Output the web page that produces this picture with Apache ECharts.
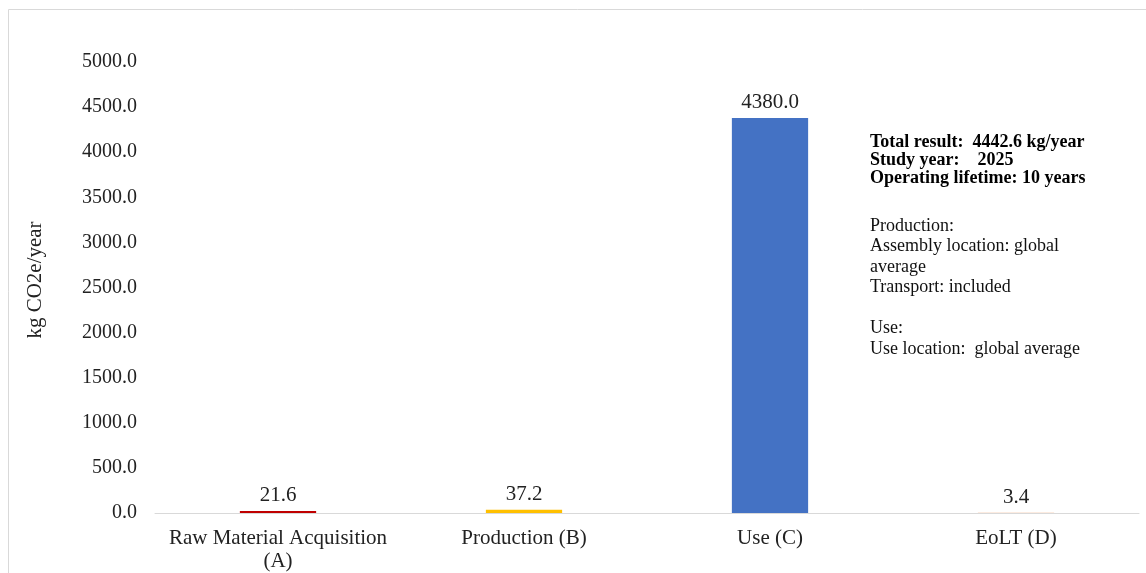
<!DOCTYPE html>
<html>
<head>
<meta charset="utf-8">
<script src="https://cdn.jsdelivr.net/npm/echarts@6/dist/echarts.min.js"></script>
<style>
  html, body { margin: 0; padding: 0; background: #fff; }
  #chart { width: 1146px; height: 573px; }
</style>
</head>
<body>
<div id="chart"></div>
<script>
// Life-cycle stages and their emissions (kg CO2e per year)
const stages = ['Raw Material Acquisition\n(A)', 'Production (B)', 'Use (C)', 'EoLT (D)'];
const emissions = [21.6, 37.2, 4380.0, 3.4];
const stageColors = ['#C00000', '#FFC000', '#4472C4', '#F4B183'];
const yTicks = { min: 0, max: 5000, interval: 500 };
const yTitle = 'kg CO2e/year';

const noteBold = [
  'Total result:  4442.6 kg/year',
  'Study year:    2025',
  'Operating lifetime: 10 years'
];
const noteBody = [
  'Production:',
  'Assembly location: global',
  'average',
  'Transport: included',
  '',
  'Use:',
  'Use location:  global average'
];

const serif = '"Liberation Serif", "Times New Roman", serif';
const chart = echarts.init(document.getElementById('chart'));

chart.setOption({
  animation: false,
  textStyle: { fontFamily: serif },
  grid: { left: 155, right: 7, top: 62, bottom: 59 },
  xAxis: {
    type: 'category',
    data: stages,
    axisLine: { lineStyle: { color: '#d9d9d9', width: 1 } },
    axisTick: { show: false },
    axisLabel: { color: '#222', fontSize: 21, fontFamily: serif, margin: 14, lineHeight: 23, interval: 0 }
  },
  yAxis: {
    type: 'value',
    min: yTicks.min,
    max: yTicks.max,
    interval: yTicks.interval,
    axisLine: { show: false },
    axisTick: { show: false },
    splitLine: { show: false },
    axisLabel: {
      color: '#222', fontSize: 20, fontFamily: serif, margin: 18,
      formatter: v => v.toFixed(1)
    }
  },
  series: [{
    type: 'bar',
    barWidth: '31%',
    data: emissions.map((v, i) => ({ value: v, itemStyle: { color: stageColors[i] } })),
    label: {
      show: true,
      position: 'top',
      distance: 5,
      color: '#222',
      fontSize: 21,
      fontFamily: serif,
      formatter: p => p.value.toFixed(1)
    }
  }],
  graphic: [
    {
      type: 'rect',
      shape: { x: 8.5, y: 9.5, width: 1160, height: 600 },
      style: { fill: 'none', stroke: '#d9d9d9', lineWidth: 1 },
      silent: true
    },
    {
      // vertical axis title
      type: 'text',
      x: 35,
      y: 280,
      rotation: Math.PI / 2,
      style: {
        text: yTitle,
        font: '21px ' + serif,
        fill: '#222',
        align: 'center',
        verticalAlign: 'middle'
      }
    },
    {
      type: 'text',
      left: 870,
      top: 133,
      style: {
        text: noteBold.join('\n'),
        font: 'bold 18px ' + serif,
        lineHeight: 18,
        fill: '#000'
      }
    },
    {
      type: 'text',
      left: 870,
      top: 216,
      style: {
        text: noteBody.join('\n'),
        font: '18px ' + serif,
        lineHeight: 20.5,
        fill: '#111'
      }
    }
  ]
});
</script>
</body>
</html>
